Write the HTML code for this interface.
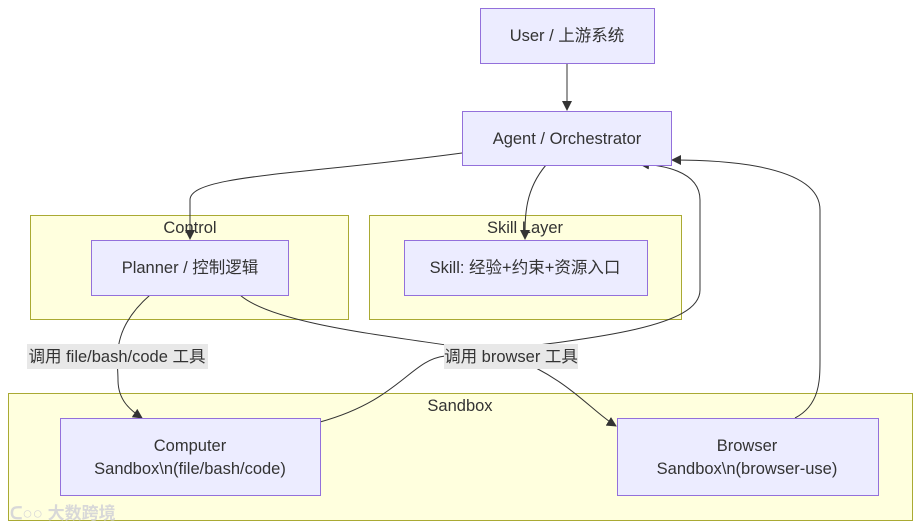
<!DOCTYPE html>
<html><head><meta charset="utf-8"><style>
html,body{margin:0;padding:0;background:#fff;}
svg{display:block;}
text{font-family:"Liberation Sans","Noto Sans CJK SC",sans-serif;font-size:16.5px;fill:#333;}
</style></head><body>
<svg width="921" height="530" viewBox="0 0 921 530" xmlns="http://www.w3.org/2000/svg">
<defs><marker id="a" viewBox="0 0 10 10" refX="9" refY="5" markerWidth="10" markerHeight="10" markerUnits="userSpaceOnUse" orient="auto"><path d="M0,0L10,5L0,10z" fill="#333"/></marker></defs>
<rect x="8.5" y="393.5" width="904" height="127" fill="#ffffde" stroke="#aaaa33"/>
<rect x="30.5" y="215.5" width="318" height="104" fill="#ffffde" stroke="#aaaa33"/>
<rect x="369.5" y="215.5" width="312" height="104" fill="#ffffde" stroke="#aaaa33"/>
<text x="190" y="233" text-anchor="middle">Control</text>
<text x="525" y="233" text-anchor="middle">Skill Layer</text>
<text x="460" y="411" text-anchor="middle">Sandbox</text>
<g fill="none" stroke="#333" stroke-width="1">
<path d="M567,63 L567,110" marker-end="url(#a)"/>
<path d="M462,153 C300,175 190,175 190,200 L190,239" marker-end="url(#a)"/>
<path d="M546,165 C525,190 525,215 525,239" marker-end="url(#a)"/>
<path d="M150,295 C110,330 118,360 118,380 C118,400 130,410 142,418" marker-end="url(#a)"/>
<path d="M240,295 C280,330 440,340 510,356 C570,380 590,410 616,426" marker-end="url(#a)"/>
<path d="M320,422 C400,400 410,360 445,356 C580,340 700,330 700,290 L700,200 C700,170 660,165 640,164" marker-end="url(#a)"/>
<path d="M795,418 C820,405 820,380 820,360 L820,210 C820,160 700,160 672,160" marker-end="url(#a)"/>
</g>
<g fill="#ececff" stroke="#9370db">
<rect x="480.5" y="8.5" width="174" height="55"/>
<rect x="462.5" y="111.5" width="209" height="54"/>
<rect x="91.5" y="240.5" width="197" height="55"/>
<rect x="404.5" y="240.5" width="243" height="55"/>
<rect x="60.5" y="418.5" width="260" height="77"/>
<rect x="617.5" y="418.5" width="261" height="77"/>
</g>
<rect x="27" y="344" width="181" height="25" fill="#e8e8e8"/>
<rect x="444" y="344" width="134" height="25" fill="#e8e8e8"/>
<text x="567" y="41" text-anchor="middle">User / 上游系统</text>
<text x="567" y="144" text-anchor="middle">Agent / Orchestrator</text>
<text x="190" y="273" text-anchor="middle">Planner / 控制逻辑</text>
<text x="525" y="273" text-anchor="middle">Skill: 经验+约束+资源入口</text>
<text x="117" y="362" text-anchor="middle">调用 file/bash/code 工具</text>
<text x="511" y="362" text-anchor="middle">调用 browser 工具</text>
<text x="190" y="451" text-anchor="middle">Computer</text>
<text x="190" y="474" text-anchor="middle">Sandbox\n(file/bash/code)</text>
<text x="747" y="451" text-anchor="middle">Browser</text>
<text x="747" y="474" text-anchor="middle">Sandbox\n(browser-use)</text>
<text x="10" y="519" style="font-size:17px;fill:#d8d8d8;font-weight:bold">ᑕ○○ 大数跨境</text>
</svg>
</body></html>
